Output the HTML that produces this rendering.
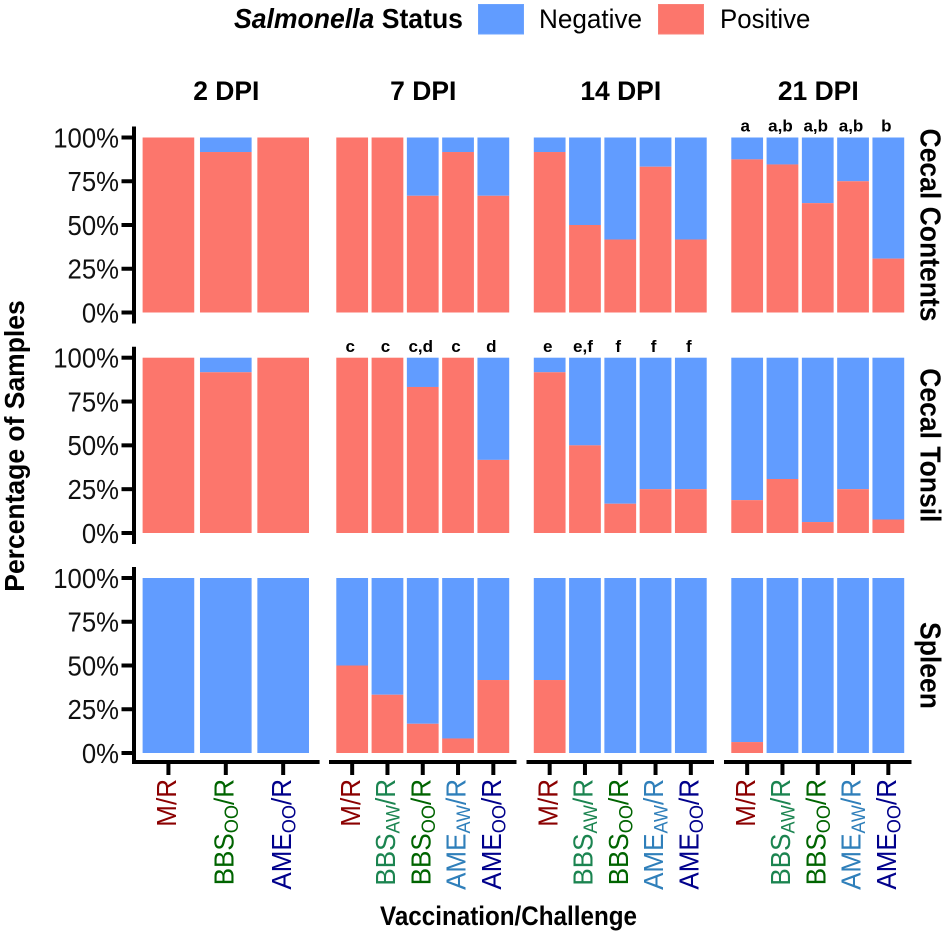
<!DOCTYPE html>
<html>
<head>
<meta charset="utf-8">
<title>Salmonella status chart</title>
<style>
html,body{margin:0;padding:0;background:#fff;}
svg{display:block;font-family:"Liberation Sans",sans-serif;}
</style>
</head>
<body>
<svg id="chart" width="945" height="935" viewBox="0 0 945 935" xmlns="http://www.w3.org/2000/svg">
  <g>
    <text transform="translate(234,28) scale(0.96,1)" font-size="27.7" font-weight="bold" fill="#000"><tspan font-style="italic">Salmonella</tspan> Status</text>
    <rect x="478.5" y="4.5" width="45" height="29.5" fill="#619CFF" stroke="#6CA3FF" stroke-width="1"/>
    <text transform="translate(539,28) scale(0.96,1)" font-size="27.2" fill="#000">Negative</text>
    <rect x="658.5" y="4.5" width="45" height="29.5" fill="#FC766C" stroke="#FA8178" stroke-width="1"/>
    <text transform="translate(720,28) scale(0.96,1)" font-size="26.9" fill="#000">Positive</text>
  </g>
  <text transform="translate(24,446) rotate(-90) scale(0.946,1)" text-anchor="middle" font-size="28" font-weight="bold" fill="#000">Percentage of Samples</text>
  <text transform="translate(508.5,925) scale(0.914,1)" text-anchor="middle" font-size="26.5" font-weight="bold" fill="#000">Vaccination/Challenge</text>
  <g id="plot"></g>
</svg>
<script>
// Panel (facet) and row names
const dpiLabels = ['2 DPI', '7 DPI', '14 DPI', '21 DPI'];
const rowLabels = ['Cecal Contents', 'Cecal Tonsil', 'Spleen'];
const yTickValues = [0, 25, 50, 75, 100];

// Categories per timepoint
const categories2dpi = ['M', 'BBSOO', 'AMEOO'];
const categoriesLater = ['M', 'BBSAW', 'BBSOO', 'AMEAW', 'AMEOO'];

// Percent positive: Cecal Contents
const contents2dpi = [100, 91.7, 100];
const contents7dpi = [100, 100, 66.7, 91.7, 66.7];
const contents14dpi = [91.7, 50, 41.7, 83.3, 41.7];
const contents21dpi = [87.5, 84.6, 62.5, 75, 30.8];

// Percent positive: Cecal Tonsil
const tonsil2dpi = [100, 91.7, 100];
const tonsil7dpi = [100, 100, 83.3, 100, 41.7];
const tonsil14dpi = [91.7, 50, 16.7, 25, 25];
const tonsil21dpi = [18.75, 30.8, 6.25, 25, 7.7];

// Percent positive: Spleen
const spleen2dpi = [0, 0, 0];
const spleen7dpi = [50, 33.3, 16.7, 8.3, 41.7];
const spleen14dpi = [41.7, 0, 0, 0, 0];
const spleen21dpi = [6.25, 0, 0, 0, 0];

// Significance letters
const lettersContents21 = ['a', 'a,b', 'a,b', 'a,b', 'b'];
const lettersTonsil7 = ['c', 'c', 'c,d', 'c', 'd'];
const lettersTonsil14 = ['e', 'e,f', 'f', 'f', 'f'];

const rowSeries = [
  [contents2dpi, contents7dpi, contents14dpi, contents21dpi],
  [tonsil2dpi, tonsil7dpi, tonsil14dpi, tonsil21dpi],
  [spleen2dpi, spleen7dpi, spleen14dpi, spleen21dpi]
];
const panelCategories = [categories2dpi, categoriesLater, categoriesLater, categoriesLater];
const rowLetters = [
  [null, null, null, lettersContents21],
  [null, lettersTonsil7, lettersTonsil14, null],
  [null, null, null, null]
];

// Layout
const SVGNS = 'http://www.w3.org/2000/svg';
const plot = document.getElementById('plot');
const panelLeft = [134, 331, 528.5, 726];
const panelRight = [317.6, 514.5, 712, 909.5];
const rowTop = [137.5, 357.7, 578];
const rowBottom = [312.5, 533, 753];
const BAR = 0.9;
const BLUE = '#619CFF', RED = '#FC766C';
const colorFor = {M: '#8B0000', BBSAW: '#1B8450', BBSOO: '#006400', AMEAW: '#2F7FBA', AMEOO: '#00008B'};

function xStep(p) {
  return (panelRight[p] - panelLeft[p]) / (panelCategories[p].length + 0.2);
}
function xCenter(p, i) {
  return panelLeft[p] + xStep(p) * (i + 0.6);
}
function yScale(r, v) {
  return rowBottom[r] - (rowBottom[r] - rowTop[r]) * v / 100;
}
function mk(tag, attrs, parent) {
  const e = document.createElementNS(SVGNS, tag);
  for (const k in attrs) e.setAttribute(k, attrs[k]);
  (parent || plot).appendChild(e);
  return e;
}

// Facet titles
dpiLabels.forEach(function (label, p) {
  const cx = (panelLeft[p] + panelRight[p]) / 2 + 0.5;
  const t = mk('text', {transform: 'translate(' + cx + ',100) scale(0.98,1)', 'text-anchor': 'middle', 'font-size': 27, 'font-weight': 'bold', fill: '#000'});
  
  
  t.textContent = label;
});

// Row strips
rowLabels.forEach(function (label, r) {
  const cy = (rowTop[r] + rowBottom[r]) / 2;
  const t = mk('text', {transform: 'translate(920.5,' + cy + ') rotate(90) scale(0.93,1)', 'text-anchor': 'middle', 'font-size': 28.5, 'font-weight': 'bold', fill: '#000'});
  
  
  t.textContent = label;
});

// Bars and letters
rowSeries.forEach(function (panels, r) {
  panels.forEach(function (series, p) {
    const w = xStep(p) * BAR;
    series.forEach(function (pos, i) {
      const cx = xCenter(p, i);
      if (pos < 100) {
        const yTop = yScale(r, 100), yMid = yScale(r, pos);
        const neg = mk('rect', {x: cx - w / 2, y: yTop, width: w, height: yMid - yTop, fill: BLUE});
        
        
      }
      if (pos > 0) {
        const yMid = yScale(r, pos), yBot = yScale(r, 0);
        const posBar = mk('rect', {x: cx - w / 2, y: yMid, width: w, height: yBot - yMid, fill: RED});
        
        
      }
      const letters = rowLetters[r][p];
      if (letters) {
        const t = mk('text', {x: cx - 2, y: rowTop[r] - 5.8, 'text-anchor': 'middle', 'font-size': 17, 'font-weight': 'bold', fill: '#000'});
        
        
        t.textContent = letters[i];
      }
    });
  });
});

// Y axes
rowLabels.forEach(function (label, r) {
  const axis = mk('line', {x1: 134, x2: 134, y1: rowTop[r] - 11, y2: rowBottom[r] + 11, stroke: '#000', 'stroke-width': 4});
  
  
  yTickValues.forEach(function (v) {
    const y = yScale(r, v);
    const tick = mk('line', {x1: 121.5, x2: 134, y1: y, y2: y, stroke: '#000', 'stroke-width': 4});
    
    
    const t = mk('text', {transform: 'translate(119,' + (y + 9.8) + ') scale(0.935,1)', 'text-anchor': 'end', 'font-size': 27.5, fill: '#111'});
    
    
    t.textContent = v + '%';
  });
});

// X axes and category labels
const AXIS_Y = 762;
dpiLabels.forEach(function (label, p) {
  const axis = mk('line', {x1: panelLeft[p] - 2, x2: panelRight[p] + 2, y1: AXIS_Y, y2: AXIS_Y, stroke: '#000', 'stroke-width': 4});
  
  
  panelCategories[p].forEach(function (cat, i) {
    const cx = xCenter(p, i);
    const tick = mk('line', {x1: cx, x2: cx, y1: AXIS_Y, y2: 775, stroke: '#000', 'stroke-width': 4});
    
    
    const t = mk('text', {transform: 'translate(' + (cx + 7.6) + ',779) rotate(-90) scale(0.93,1)', 'text-anchor': 'end', 'font-size': 28, fill: colorFor[cat]});
    
    
    if (cat === 'M') {
      t.textContent = 'M/R';
    } else {
      const a = mk('tspan', {}, t);
      a.textContent = cat.slice(0, 3);
      const b = mk('tspan', {dy: 4.5, 'font-size': 19.5}, t);
      b.textContent = cat.slice(3);
      const c = mk('tspan', {dy: -4.5}, t);
      c.textContent = '/R';
    }
  });
});
</script>
</body>
</html>
